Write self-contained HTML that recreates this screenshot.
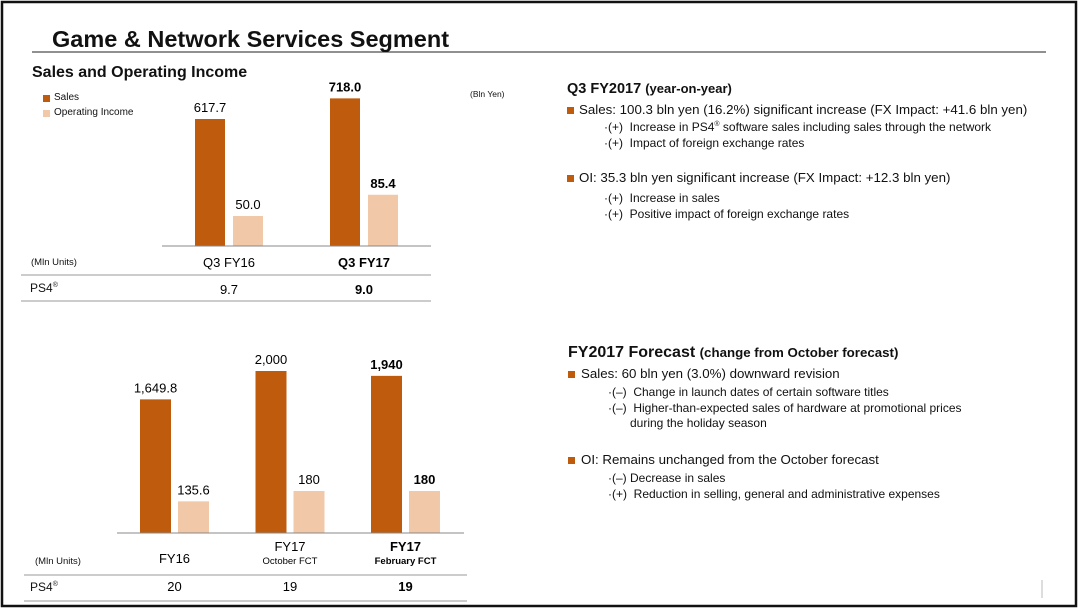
<!DOCTYPE html>
<html><head><meta charset="utf-8"><style>
body{margin:0;background:#fff;}
#root{position:relative;width:1080px;height:610px;overflow:hidden;font-family:"Liberation Sans",Arial,sans-serif;color:#111;}
svg{position:absolute;left:0;top:0;}
.t{position:absolute;white-space:nowrap;}
.h{font-weight:bold;font-size:14.5px;}
.m{font-size:13.3px;}
.s{font-size:12px;}
.b{position:absolute;width:7px;height:7px;background:#BF5B0C;}
</style></head><body>
<div id="root">
<svg id="chart" width="1080" height="610">
<rect x="2" y="2" width="1074" height="604" fill="none" stroke="#111" stroke-width="2.5"/>
<line x1="32" y1="52" x2="1046" y2="52" stroke="#222" stroke-width="1"/>
<line x1="21" y1="275" x2="431" y2="275" stroke="#999"/>
<line x1="21" y1="301" x2="431" y2="301" stroke="#999"/>
<line x1="24" y1="575" x2="467" y2="575" stroke="#999"/>
<line x1="24" y1="601" x2="467" y2="601" stroke="#999"/>
<line x1="1042" y1="580" x2="1042" y2="598" stroke="#bbb"/>
<g id="g1"></g><g id="g2"></g>
</svg>

<div class="t" style="left:52px;top:26px;font-size:23.5px;font-weight:bold;">Game &amp; Network Services Segment</div>
<div class="t" style="left:32px;top:64px;font-size:16px;font-weight:bold;">Sales and Operating Income</div>
<div class="b" style="left:43px;top:95px;"></div>
<div class="t" style="left:54px;top:92px;font-size:10px;">Sales</div>
<div class="b" style="left:43px;top:110px;background:#F1C8A8;"></div>
<div class="t" style="left:54px;top:107px;font-size:10px;">Operating Income</div>
<div class="t" style="left:470px;top:89px;font-size:8.5px;">(Bln Yen)</div>

<div class="t" style="left:31px;top:257px;font-size:9.5px;">(Mln Units)</div>
<div class="t" style="left:30px;top:281px;font-size:12px;">PS4<sup style="font-size:7px">®</sup></div>
<div class="t" style="left:35px;top:556px;font-size:9.5px;">(Mln Units)</div>
<div class="t" style="left:30px;top:580px;font-size:12px;">PS4<sup style="font-size:7px">®</sup></div>

<div class="t h" style="left:567px;top:81px;">Q3 FY2017 <span style="font-size:13px">(year-on-year)</span></div>
<div class="b" style="left:567px;top:107px;"></div>
<div class="t m" style="left:579px;top:102px;">Sales: 100.3 bln yen (16.2%) significant increase (FX Impact: +41.6 bln yen)</div>
<div class="t s" style="left:604px;top:120px;">·(+)&nbsp; Increase in PS4<sup style="font-size:7px">®</sup> software sales including sales through the network</div>
<div class="t s" style="left:604px;top:136px;">·(+)&nbsp; Impact of foreign exchange rates</div>
<div class="b" style="left:567px;top:175px;"></div>
<div class="t m" style="left:579px;top:170px;">OI: 35.3 bln yen significant increase (FX Impact: +12.3 bln yen)</div>
<div class="t s" style="left:604px;top:191px;">·(+)&nbsp; Increase in sales</div>
<div class="t s" style="left:604px;top:207px;">·(+)&nbsp; Positive impact of foreign exchange rates</div>

<div class="t h" style="left:568px;top:344px;font-size:16px;">FY2017 Forecast <span style="font-size:13.3px">(change from October forecast)</span></div>
<div class="b" style="left:568px;top:371px;"></div>
<div class="t m" style="left:581px;top:366px;">Sales: 60 bln yen (3.0%) downward revision</div>
<div class="t s" style="left:608px;top:385px;">·(–)&nbsp; Change in launch dates of certain software titles</div>
<div class="t s" style="left:608px;top:401px;">·(–)&nbsp; Higher-than-expected sales of hardware at promotional prices</div>
<div class="t s" style="left:630px;top:416px;">during the holiday season</div>
<div class="b" style="left:568px;top:457px;"></div>
<div class="t m" style="left:581px;top:452px;">OI: Remains unchanged from the October forecast</div>
<div class="t s" style="left:608px;top:471px;">·(–) Decrease in sales</div>
<div class="t s" style="left:608px;top:487px;">·(+)&nbsp; Reduction in selling, general and administrative expenses</div>
</div>
<script>
const topCats=["Q3 FY16","Q3 FY17"];
const topSales=[617.7,718.0];
const topOI=[50.0,85.4];
const topSalesLabels=["617.7","718.0"];
const topOILabels=["50.0","85.4"];
const topPS4=["9.7","9.0"];
const botCats=["FY16","FY17","FY17"];
const botSub=["","October FCT","February FCT"];
const botSales=[1649.8,2000,1940];
const botOI=[135.6,180,180];
const botSalesLabels=["1,649.8","2,000","1,940"];
const botOILabels=["135.6","180","180"];
const botPS4=["20","19","19"];
const NS="http://www.w3.org/2000/svg";
function mk(g,tag,attrs,txt){const e=document.createElementNS(NS,tag);for(const k in attrs)e.setAttribute(k,attrs[k]);if(txt!==undefined)e.textContent=txt;g.appendChild(e);return e;}
function draw(g,o){
  const base=o.base;
  const ys=v=>base-v*o.sk, yo=v=>base-v*o.ok;
  o.cats.forEach((c,i)=>{
    const x0=o.x0+i*o.step, bold=o.bold(i);
    const fw=bold?"bold":"normal";
    let r=mk(g,"rect",{x:x0,y:ys(o.sales[i]),width:o.bw,height:base-ys(o.sales[i]),fill:"#BF5B0C"});
    
    
    r=mk(g,"rect",{x:x0+o.gap,y:yo(o.oi[i]),width:o.bw,height:base-yo(o.oi[i]),fill:"#F1C8A8"});
    
    
    let t=mk(g,"text",{x:x0+o.bw/2,y:ys(o.sales[i])-7,"text-anchor":"middle","font-size":13,"font-weight":fw},o.sl[i]);
    
    
    t=mk(g,"text",{x:x0+o.gap+o.bw/2,y:yo(o.oi[i])-7,"text-anchor":"middle","font-size":13,"font-weight":fw},o.ol[i]);
    
    
    const cx=x0+(o.gap+o.bw)/2;
    t=mk(g,"text",{x:cx,y:o.catY+(o.sub&&o.sub[i]?0:o.catShift),"text-anchor":"middle","font-size":13,"font-weight":fw},c);
    
    
    if(o.sub&&o.sub[i]){t=mk(g,"text",{x:cx,y:o.catY+13,"text-anchor":"middle","font-size":9.5,"font-weight":fw},o.sub[i]);
    
    }
    t=mk(g,"text",{x:cx,y:o.ps4Y,"text-anchor":"middle","font-size":13,"font-weight":fw},o.ps4[i]);
    
    
  });
  const l=mk(g,"line",{x1:o.ax0,x2:o.ax1,y1:base,y2:base,stroke:"#888"});
  
  
}
draw(document.getElementById("g1"),{base:246,sk:127/617.7,ok:30/50,x0:195,step:135,bw:30,gap:38,
 cats:topCats,sales:topSales,oi:topOI,sl:topSalesLabels,ol:topOILabels,ps4:topPS4,
 bold:i=>i===1,catY:267,catShift:0,ps4Y:294,ax0:162,ax1:431});
draw(document.getElementById("g2"),{base:533,sk:162/2000,ok:42/180,x0:140,step:115.5,bw:31,gap:38,
 cats:botCats,sub:botSub,sales:botSales,oi:botOI,sl:botSalesLabels,ol:botOILabels,ps4:botPS4,
 bold:i=>i===2,catY:551,catShift:12,ps4Y:591,ax0:117,ax1:464});
</script>
</body></html>
